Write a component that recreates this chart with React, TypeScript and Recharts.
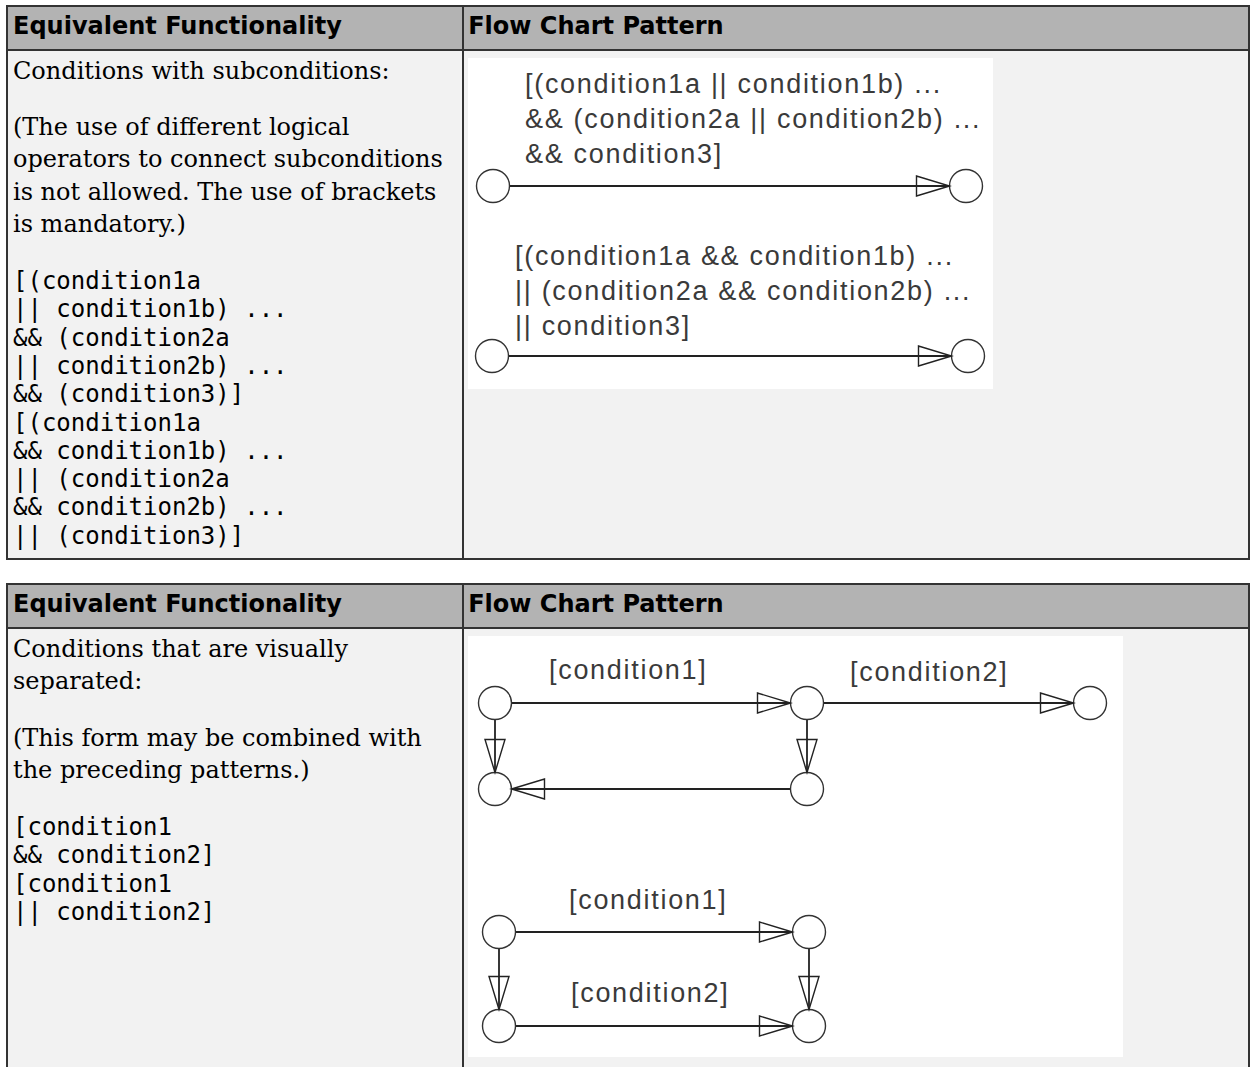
import { ScatterChart, Scatter, XAxis, YAxis } from 'recharts'

const tableHeaders = ['Equivalent Functionality', 'Flow Chart Pattern']

// first table: subconditions
const subIntro = ['Conditions with subconditions:']
const subNote = [
  '(The use of different logical',
  'operators to connect subconditions',
  'is not allowed. The use of brackets',
  'is mandatory.)',
]
const subCode = [
  '[(condition1a',
  '|| condition1b) ...',
  '&& (condition2a',
  '|| condition2b) ...',
  '&& (condition3)]',
  '[(condition1a',
  '&& condition1b) ...',
  '|| (condition2a',
  '&& condition2b) ...',
  '|| (condition3)]',
]
const subNodes = [
  { id: 'p1', x: 25, y: 128 },
  { id: 'p2', x: 498, y: 128 },
  { id: 'q1', x: 24, y: 298 },
  { id: 'q2', x: 500, y: 298 },
]
const subEdges = [
  ['p1', 'p2'],
  ['q1', 'q2'],
]
const subLabels = [
  {
    x: 57,
    y: 35,
    lines: ['[(condition1a || condition1b) ...', '&& (condition2a || condition2b) ...', '&& condition3]'],
  },
  {
    x: 47,
    y: 207,
    lines: ['[(condition1a && condition1b) ...', '|| (condition2a && condition2b) ...', '|| condition3]'],
  },
]

// second table: visually separated conditions
const sepIntro = ['Conditions that are visually', 'separated:']
const sepNote = ['(This form may be combined with', 'the preceding patterns.)']
const sepCode = ['[condition1', '&& condition2]', '[condition1', '|| condition2]']
const sepNodes = [
  { id: 'a1', x: 27, y: 67 },
  { id: 'a2', x: 339, y: 67 },
  { id: 'a3', x: 622, y: 67 },
  { id: 'a4', x: 27, y: 153 },
  { id: 'a5', x: 339, y: 153 },
  { id: 'b1', x: 31, y: 296 },
  { id: 'b2', x: 341, y: 296 },
  { id: 'b3', x: 31, y: 390 },
  { id: 'b4', x: 341, y: 390 },
]
const sepEdges = [
  ['a1', 'a2'],
  ['a2', 'a3'],
  ['a1', 'a4'],
  ['a2', 'a5'],
  ['a5', 'a4'],
  ['b1', 'b2'],
  ['b1', 'b3'],
  ['b2', 'b4'],
  ['b3', 'b4'],
]
const sepLabels = [
  { x: 81, y: 43, lines: ['[condition1]'] },
  { x: 382, y: 45, lines: ['[condition2]'] },
  { x: 101, y: 273, lines: ['[condition1]'] },
  { x: 103, y: 366, lines: ['[condition2]'] },
]

const BORDER = '2px solid #333'
const NODE_R = 16.5
const HEAD_LEN = 33
const HEAD_HALF = 10
const LABEL_GAP = 35

const noShape = () => <g />

const nodeShape = (props: any) => (
  <circle cx={props.cx} cy={props.cy} r={NODE_R} fill="#fff" stroke="#333" strokeWidth={1.4} />
)

// open triangle whose tip touches the target circle
const arrowShape = (props: any) => {
  const { cx, cy, payload } = props
  const { dx, dy } = payload
  const tx = cx - dx * NODE_R
  const ty = cy - dy * NODE_R
  const bx = tx - dx * HEAD_LEN
  const by = ty - dy * HEAD_LEN
  const px = -dy * HEAD_HALF
  const py = dx * HEAD_HALF
  const pts = `${tx},${ty} ${bx + px},${by + py} ${bx - px},${by - py}`
  return <polygon points={pts} fill="none" stroke="#222" strokeWidth={1.4} />
}

const labelShape = (props: any) => {
  const { cx, cy, payload } = props
  return (
    <text
      fontFamily='"Liberation Sans", Arial, sans-serif'
      fontSize={27}
      letterSpacing={1.7}
      fill="#3a3a3a"
    >
      {payload.lines.map((line: string, i: number) => (
        <tspan key={i} x={cx} y={cy + i * LABEL_GAP}>
          {line}
        </tspan>
      ))}
    </text>
  )
}

interface FlowChartProps {
  width: number
  height: number
  nodes: Array<{ id: string; x: number; y: number }>
  edges: string[][]
  labels: Array<{ x: number; y: number; lines: string[] }>
}

const FlowChart = ({ width, height, nodes, edges, labels }: FlowChartProps) => {
  const byId: Record<string, { x: number; y: number }> = {}
  nodes.forEach((n) => (byId[n.id] = n))
  const heads = edges.map(([from, to]) => {
    const a = byId[from]
    const b = byId[to]
    const len = Math.hypot(b.x - a.x, b.y - a.y)
    return { x: b.x, y: b.y, dx: (b.x - a.x) / len, dy: (b.y - a.y) / len }
  })

  return (
    <ScatterChart width={width} height={height} margin={{ top: 0, right: 0, bottom: 0, left: 0 }}>
      <XAxis type="number" dataKey="x" domain={[0, width]} hide />
      <YAxis type="number" dataKey="y" domain={[0, height]} reversed hide />
      {edges.map(([from, to]) => (
        <Scatter
          key={`${from}-${to}`}
          data={[byId[from], byId[to]]}
          line={{ stroke: '#222', strokeWidth: 1.8 }}
          shape={noShape}
          isAnimationActive={false}
        />
      ))}
      <Scatter data={nodes} shape={nodeShape} isAnimationActive={false} />
      <Scatter data={heads} shape={arrowShape} isAnimationActive={false} />
      <Scatter data={labels} shape={labelShape} isAnimationActive={false} />
    </ScatterChart>
  )
}

interface PatternTableProps {
  top: number
  height: number
  intro: string[]
  note: string[]
  code: string[]
  chart: React.ReactNode
  chartWidth: number
  chartHeight: number
}

const Lines = ({ lines }: { lines: string[] }) => (
  <>
    {lines.map((l, i) => (
      <div key={i} style={{ whiteSpace: 'pre' }}>
        {l}
      </div>
    ))}
  </>
)

const PatternTable = ({ top, height, intro, note, code, chart, chartWidth, chartHeight }: PatternTableProps) => (
  <div
    style={{
      position: 'absolute',
      left: 6,
      top,
      width: 1244,
      height,
      border: BORDER,
      boxSizing: 'border-box',
      background: '#f2f2f2',
      color: '#000',
    }}
  >
    <div
      style={{
        display: 'flex',
        height: 43.5,
        background: '#b3b3b3',
        borderBottom: BORDER,
        boxSizing: 'border-box',
        fontFamily: '"DejaVu Sans", sans-serif',
        fontWeight: 'bold',
        fontSize: 24,
        lineHeight: '39.5px',
      }}
    >
      <div style={{ width: 455.7, borderRight: BORDER, boxSizing: 'border-box', paddingLeft: 5 }}>
        {tableHeaders[0]}
      </div>
      <div style={{ flex: 1, paddingLeft: 4.5 }}>{tableHeaders[1]}</div>
    </div>
    <div style={{ display: 'flex', height: 'calc(100% - 43.5px)' }}>
      <div
        style={{
          width: 455.7,
          borderRight: BORDER,
          boxSizing: 'border-box',
          paddingLeft: 5,
          paddingTop: 4,
          fontFamily: '"DejaVu Serif", serif',
          fontSize: 24,
          lineHeight: '32.4px',
        }}
      >
        <Lines lines={intro} />
        <div style={{ marginTop: 24 }}>
          <Lines lines={note} />
        </div>
        <div
          style={{
            marginTop: 26.5,
            fontFamily: '"DejaVu Sans Mono", monospace',
            fontSize: 24,
            lineHeight: '28.3px',
          }}
        >
          <Lines lines={code} />
        </div>
      </div>
      <div style={{ flex: 1, paddingLeft: 4.5, paddingTop: 7 }}>
        <div style={{ background: '#fff', width: chartWidth, height: chartHeight }}>{chart}</div>
      </div>
    </div>
  </div>
)

export default function App() {
  return (
    <div
      style={{
        position: 'absolute',
        left: 0,
        top: 0,
        width: 1252,
        height: 1067,
        overflow: 'hidden',
        background: '#fff',
      }}
    >
      <PatternTable
        top={5}
        height={555}
        intro={subIntro}
        note={subNote}
        code={subCode}
        chartWidth={525}
        chartHeight={331}
        chart={<FlowChart width={525} height={331} nodes={subNodes} edges={subEdges} labels={subLabels} />}
      />
      <PatternTable
        top={583.3}
        height={520}
        intro={sepIntro}
        note={sepNote}
        code={sepCode}
        chartWidth={655}
        chartHeight={421}
        chart={<FlowChart width={655} height={421} nodes={sepNodes} edges={sepEdges} labels={sepLabels} />}
      />
    </div>
  )
}
